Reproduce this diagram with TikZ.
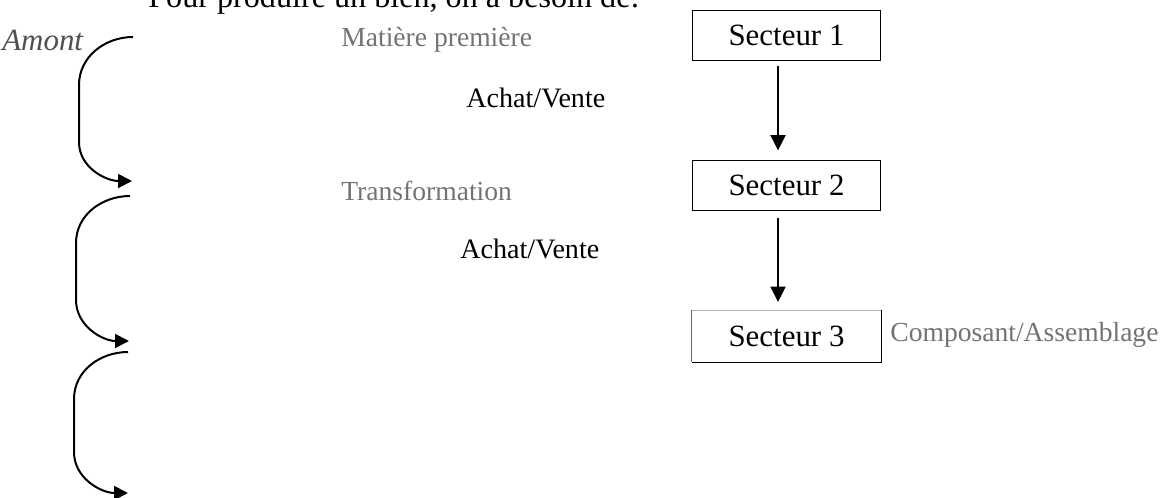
\documentclass[tikz,border=0pt]{standalone}
\usepackage{fontspec}
\setmainfont{Liberation Serif}
\usetikzlibrary{positioning,arrows.meta}
\definecolor{labelgray}{HTML}{737373}
\definecolor{amontgray}{HTML}{505050}

\begin{document}
\begin{tikzpicture}[
  x=0.02cm, y=-0.02cm,
  sect/.style={draw, line width=0.02cm, minimum width=3.78cm, minimum height=1.02cm, inner sep=0pt, font=\fontsize{17.6}{20}\selectfont},
  lbl/.style={anchor=base west, inner sep=0pt, text=labelgray, font=\fontsize{15.7}{18}\selectfont},
  trade/.style={anchor=base west, inner sep=0pt, font=\fontsize{16}{18}\selectfont},
  arr/.style={-{Triangle[length=0.31cm,width=0.3cm]}, line width=0.04cm},
  brace/.style={-{Triangle[length=0.28cm,width=0.28cm]}, line width=0.04cm}
]
\useasboundingbox (0,0) rectangle (1162,497);

\node[anchor=base west, inner sep=0pt, font=\fontsize{18.3}{20}\selectfont] (title) at (148,8) {Pour produire un bien, on a besoin de:};
\node[anchor=base west, inner sep=0pt, text=amontgray, font=\fontsize{17.6}{20}\selectfont\itshape] (amont) at (2,51) {Amont};

% stages
\node[lbl] (mat) at (341,46) {Matière première};
\node[trade] (av1) at (466,107) {Achat/Vente};
\node[lbl] (trans) at (341,200) {Transformation};
\node[trade] (av2) at (460,258) {Achat/Vente};

% sectors
\node[sect] (s1) at (786.5,35.5) {Secteur 1};
\node[sect] (s2) at (786.5,185.5) {Secteur 2};
\node[sect, draw=none] (s3) at (786.5,336) {Secteur 3};
\draw[black!30, line width=0.02cm] (s3.north west) -- (s3.north east);
\draw[line width=0.02cm] (s3.north east) -- (s3.south east) -- (s3.south west);
\draw[black!60, line width=0.02cm] (s3.south west) -- (s3.north west);
\node[lbl] (comp) at (890,341) {Composant/Assemblage};

\draw[arr, shorten <=0.1cm, shorten >=0.18cm] ([xshift=-0.17cm]s1.south) -- ([xshift=-0.17cm]s2.north);
\draw[arr, shorten <=0.14cm, shorten >=0.16cm] ([xshift=-0.17cm]s2.south) -- ([xshift=-0.17cm]s3.north);

% curly arrows on the left
\coordinate (up1) at (133,37);
\coordinate (dn1) at (132,181);
\coordinate (up2) at (130,196);
\coordinate (dn2) at (129,341);
\coordinate (up3) at (128,352);
\coordinate (dn3) at (128,493);
\draw[brace] (up1) to[out=180,in=90] (79,85) -- (79,142) to[out=-90,in=180] (dn1);
\draw[brace] (up2) to[out=180,in=90] (76,243) -- (76,300) to[out=-90,in=180] (dn2);
\draw[brace] (up3) to[out=180,in=90] (74,399) -- (74,452) to[out=-90,in=180] (dn3);
\end{tikzpicture}
\end{document}
